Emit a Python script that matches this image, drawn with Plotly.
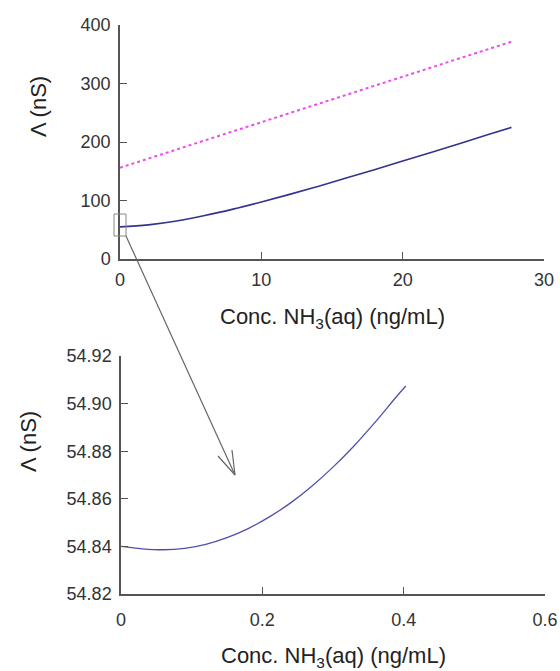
import plotly.graph_objects as go

W, H = 560, 671

# ---- data ----
top_x = [0, 2, 4, 6, 8, 10, 12, 14, 16, 18, 20, 22, 24, 26, 27.7]
top_fit = [55.0, 58.4, 65.0, 74.3, 85.3, 97.5, 110.5, 124.1, 138.3, 152.7, 167.4, 182.2, 197.2, 212.2, 225.0]
top_lin_x = [0, 27.7]
top_lin = [156.0, 371.5]

bot_x = [0, 0.03, 0.06, 0.09, 0.12, 0.15, 0.18, 0.21, 0.24, 0.27, 0.30, 0.33, 0.36, 0.39, 0.403]
bot_y = [54.8400, 54.8390, 54.8386, 54.8392, 54.8409, 54.8437, 54.8475, 54.8524, 54.8583,
         54.8653, 54.8733, 54.8823, 54.8923, 54.9030, 54.9074]

top_xticks = [0, 10, 20, 30]
top_yticks = [0, 100, 200, 300, 400]
bot_xticks = [0, 0.2, 0.4, 0.6]
bot_yticks = [54.82, 54.84, 54.86, 54.88, 54.90, 54.92]

def px(x):
    return x / W

def py(y):
    return 1 - y / H

fig = go.Figure()
fig.add_trace(go.Scatter(x=top_lin_x, y=top_lin, mode="lines",
                         line=dict(color="#ee4bee", width=2, dash="dot"),
                         xaxis="x", yaxis="y", showlegend=False))
fig.add_trace(go.Scatter(x=top_x, y=top_fit, mode="lines", line_shape="spline",
                         line=dict(color="#33338f", width=1.6),
                         xaxis="x", yaxis="y", showlegend=False))
fig.add_trace(go.Scatter(x=bot_x, y=bot_y, mode="lines", line_shape="spline",
                         line=dict(color="#5050a8", width=1.3),
                         xaxis="x2", yaxis="y2", showlegend=False))

FONT = "Liberation Sans, Arial, sans-serif"
tickfont = dict(family=FONT, size=18, color="#333")
axis_common = dict(showline=True, linecolor="#555", linewidth=1.5, ticks="inside",
                   ticklen=7, tickcolor="#555", tickwidth=1.2, showgrid=False,
                   zeroline=False, tickfont=tickfont, mirror=False, automargin=False)

fig.update_layout(
    width=W, height=H, autosize=False,
    margin=dict(l=0, r=0, t=0, b=0),
    paper_bgcolor="white", plot_bgcolor="white",
    xaxis=dict(domain=[px(120), px(544)], range=[0, 30], tickvals=top_xticks,
               anchor="y", ticklabelstandoff=4, **axis_common),
    yaxis=dict(domain=[py(259), py(25)], range=[0, 400], tickvals=top_yticks,
               anchor="x", ticklabelstandoff=4, **axis_common),
    xaxis2=dict(domain=[px(121), px(545)], range=[0, 0.6], tickvals=bot_xticks,
                ticktext=["0", "0.2", "0.4", "0.6"],
                anchor="y2", ticklabelstandoff=9, **axis_common),
    yaxis2=dict(domain=[py(594), py(356)], range=[54.82, 54.92], tickvals=bot_yticks,
                tickformat=".2f", anchor="x2", ticklabelstandoff=4, **axis_common),
)

titlefont = dict(family=FONT, size=22, color="#222")
xtitle = "Conc. NH<sub>3</sub>(aq) (ng/mL)"
fig.add_annotation(text=xtitle, xref="paper", yref="paper", x=px(332), y=py(318),
                   xanchor="center", yanchor="middle", showarrow=False, font=titlefont)
fig.add_annotation(text=xtitle, xref="paper", yref="paper", x=px(333), y=py(657),
                   xanchor="center", yanchor="middle", showarrow=False, font=titlefont)
fig.add_annotation(text="Λ (nS)", xref="paper", yref="paper", x=px(39), y=py(107),
                   xanchor="center", yanchor="middle", textangle=-90, showarrow=False,
                   font=titlefont)
fig.add_annotation(text="Λ (nS)", xref="paper", yref="paper", x=px(28), y=py(442),
                   xanchor="center", yanchor="middle", textangle=-90, showarrow=False,
                   font=titlefont)

# zoom box and arrow
gray = "#666"
fig.add_shape(type="rect", xref="paper", yref="paper", x0=px(114), x1=px(126),
              y0=py(236), y1=py(214), line=dict(color="#888", width=1))
fig.add_shape(type="line", xref="paper", yref="paper", x0=px(126), y0=py(236),
              x1=px(235), y1=py(475), line=dict(color=gray, width=1.2))
fig.add_shape(type="line", xref="paper", yref="paper", x0=px(218), y0=py(456),
              x1=px(235), y1=py(475), line=dict(color=gray, width=1.2))
fig.add_shape(type="line", xref="paper", yref="paper", x0=px(232), y0=py(450),
              x1=px(235), y1=py(475), line=dict(color=gray, width=1.2))

fig.write_html("out.html", config={"displayModeBar": False},
               post_script="document.body.style.margin='0';document.body.style.overflow='hidden';")
